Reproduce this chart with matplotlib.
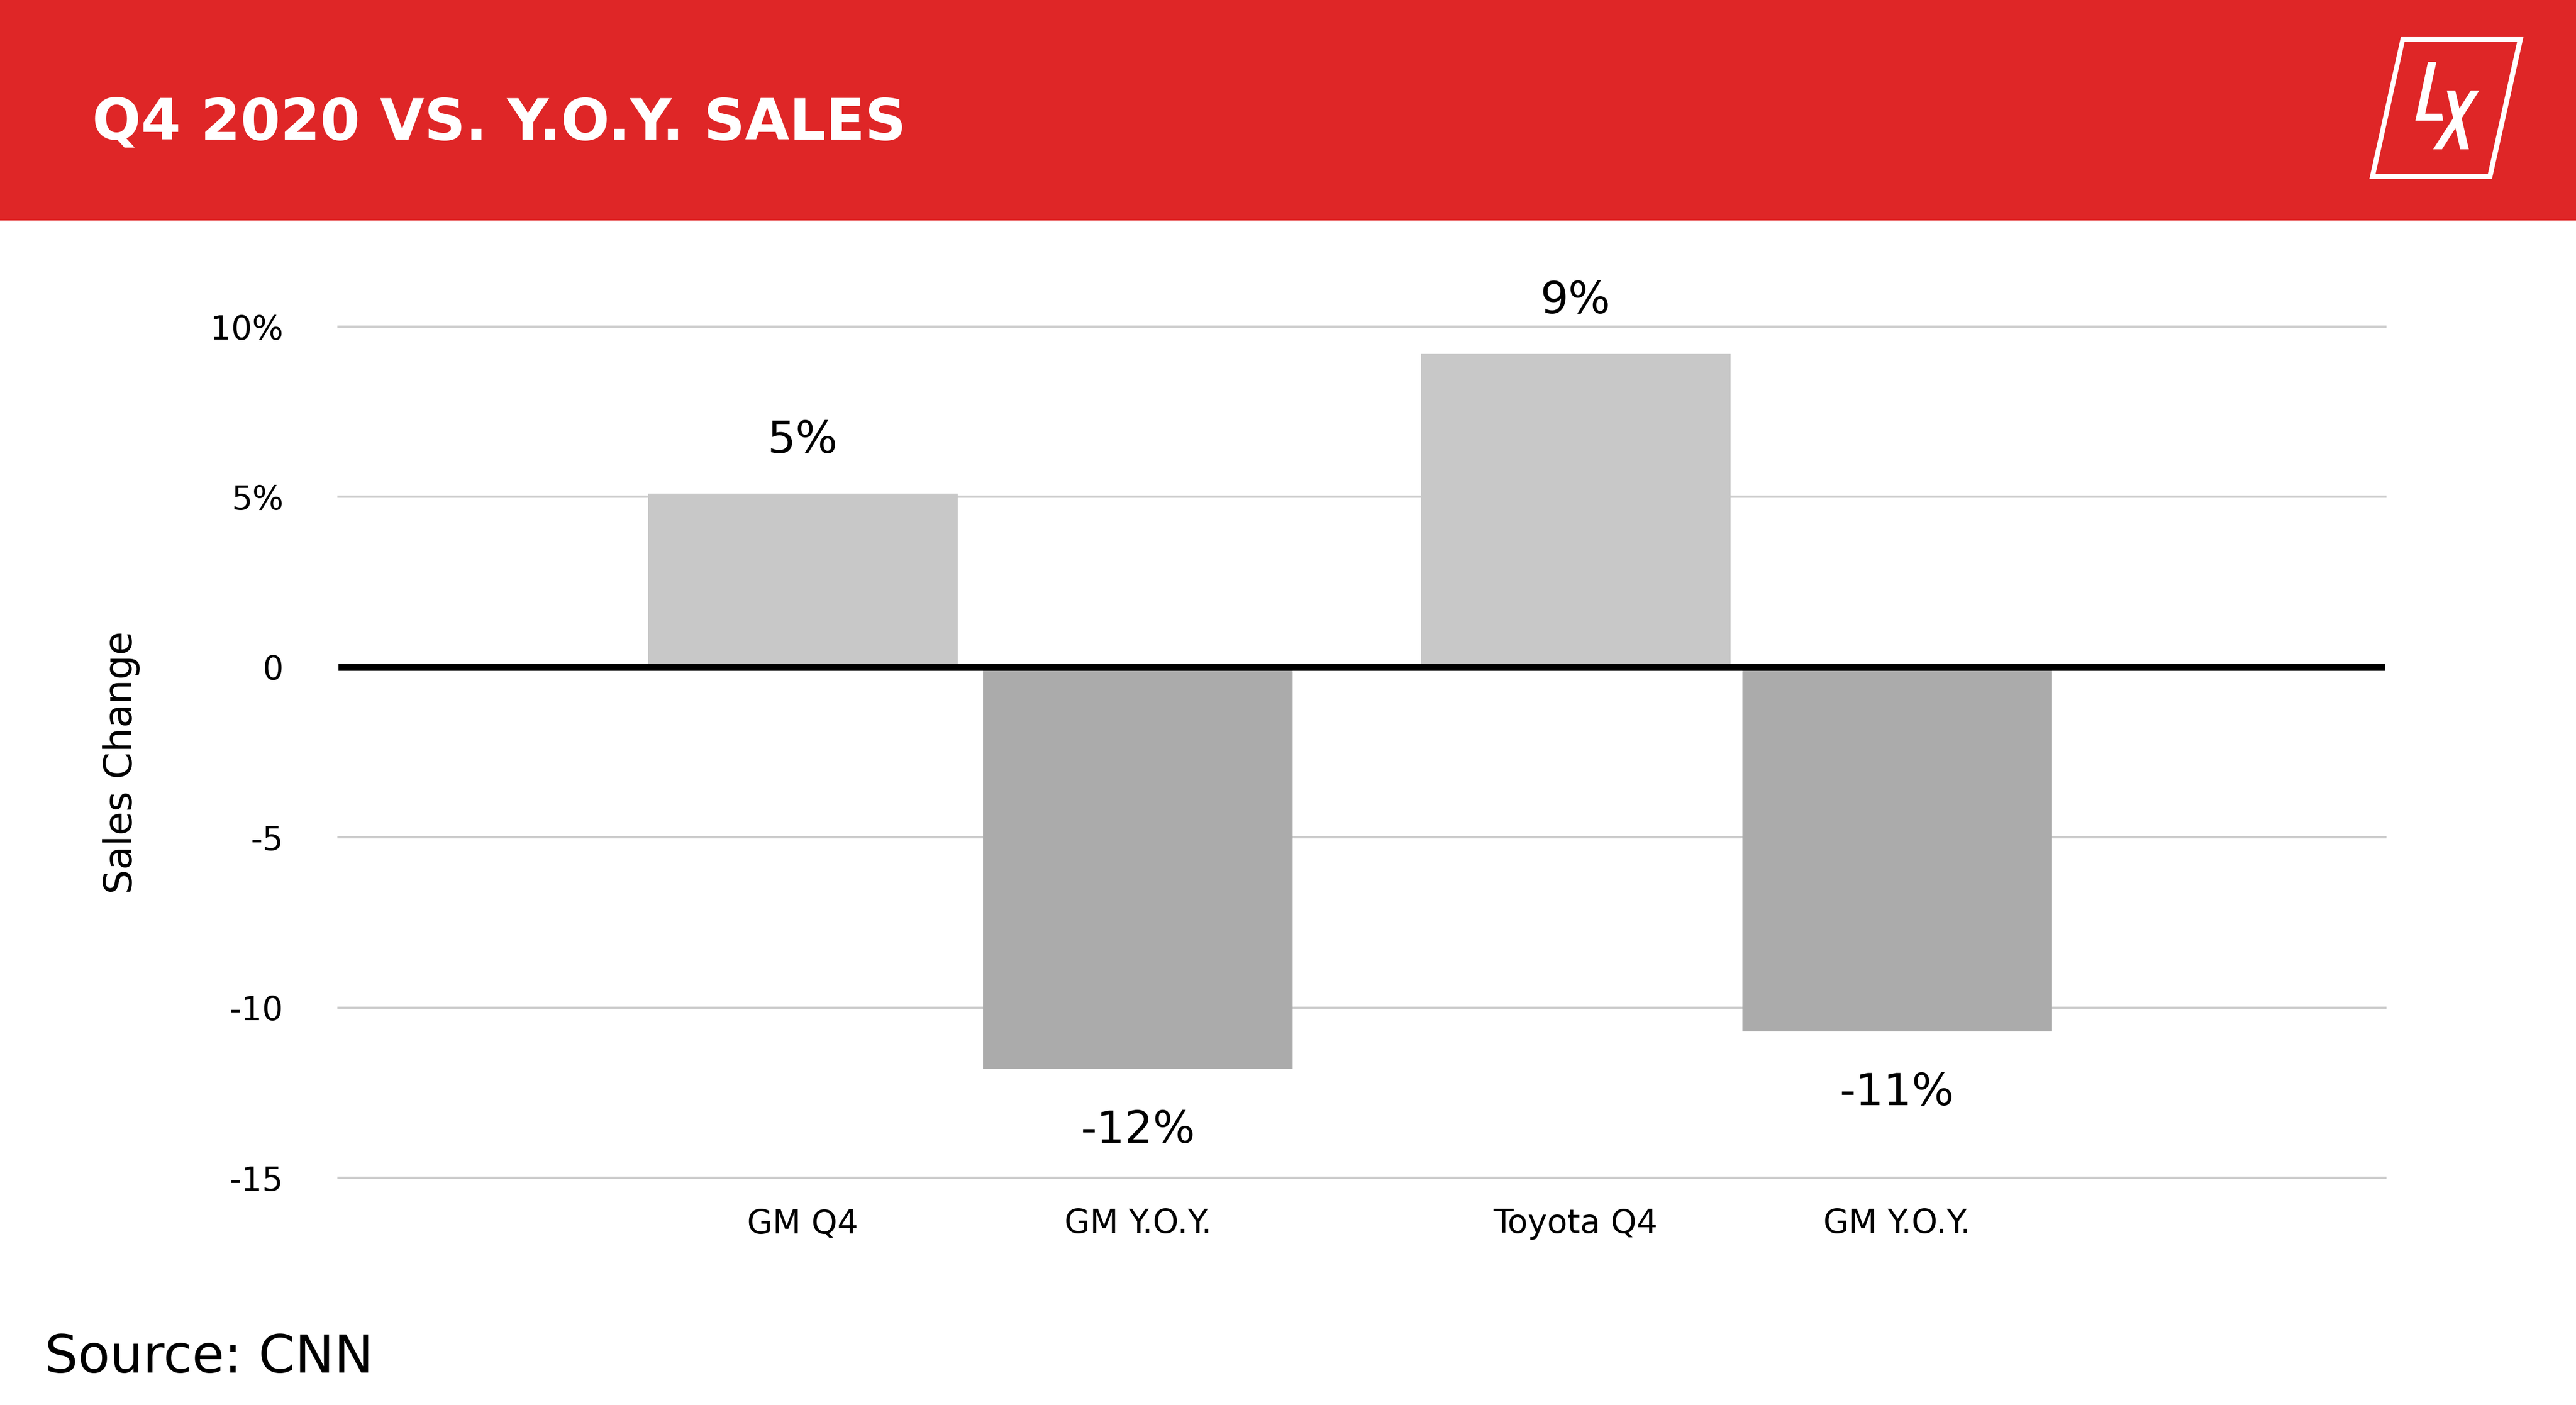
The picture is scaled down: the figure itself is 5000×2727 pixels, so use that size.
import matplotlib
matplotlib.use("Agg")
import matplotlib.pyplot as plt
from matplotlib.patches import Polygon, Rectangle

# ---- data ----
categories = ["GM Q4", "GM Y.O.Y.", "Toyota Q4", "GM Y.O.Y."]
values = [5.1, -11.8, 9.2, -10.7]
value_labels = ["5%", "-12%", "9%", "-11%"]
ytick_values = [-15, -10, -5, 0, 5, 10]
ytick_labels = ["-15", "-10", "-5", "0", "5%", "10%"]
title = "Q4 2020 VS. Y.O.Y. SALES"
ylabel = "Sales Change"
source = "Source: CNN"

# ---- layout / style ----
W, H = 5000, 2727
DPI = 100
bar_pos = [0.2268, 0.3906, 0.6044, 0.7615]   # fractions of the axis width
bar_width = 0.1513
light, dark = "#C8C8C8", "#ABABAB"
bar_colors = [light, dark, light, dark]
red = "#DF2627"

plt.rcParams["font.family"] = ["DejaVu Sans"]

fig = plt.figure(figsize=(W / DPI, H / DPI), dpi=DPI)
fig.patch.set_facecolor("white")


def fx(px):
    return px / W


def fy(py):
    return 1 - py / H


# banner
fig.patches.append(Rectangle((0, fy(428)), 1, 428 / H, transform=fig.transFigure,
                             facecolor=red, edgecolor="none", zorder=0))
fig.text(fx(179), fy(270), title, color="white", fontsize=80, fontweight="bold",
         ha="left", va="baseline")

# logo (decorative)
def poly(pts, color):
    fig.patches.append(Polygon([(fx(x), fy(y)) for x, y in pts], closed=True,
                               transform=fig.transFigure, facecolor=color,
                               edgecolor="none", zorder=2))

poly([(4660, 72), (4898, 72), (4837, 347), (4599, 347)], "white")
poly([(4667.3, 81.3), (4885.7, 81.3), (4829, 337.3), (4611, 337.3)], red)
poly([(4712.7, 120), (4729, 120), (4707.3, 220.7), (4740, 220.7),
      (4742.3, 234.3), (4688.3, 234.3)], "white")
poly([(4749.3, 175.7), (4765.7, 175.7), (4792, 289.7), (4775.3, 289.7)], "white")
poly([(4796, 175.7), (4812.3, 175.7), (4740, 289.7), (4722.7, 289.7)], "white")

# axes
ax_left, ax_right, ax_top, ax_bottom = 657, 4630, 634, 2286
ax = fig.add_axes([fx(ax_left), fy(ax_bottom), (ax_right - ax_left) / W,
                   (ax_bottom - ax_top) / H])
ax.set_facecolor("none")
ax.set_xlim(0, 1)
ax.set_ylim(-15, 10)

for v in ytick_values:
    if v != 0:
        ax.axhline(v, color="#CCCCCC", lw=3.2, zorder=0, clip_on=False)

ax.bar(bar_pos, values, width=bar_width, color=bar_colors, zorder=2)
ax.axhline(0, color="black", lw=9.4, zorder=3)

for x, v, lab in zip(bar_pos, values, value_labels):
    off = 57 if v >= 0 else -103
    ax.annotate(lab, xy=(x, v), xytext=(0, off), textcoords="offset points",
                ha="center", va="baseline", fontsize=62, color="black")

ax.set_yticks(ytick_values)
ax.set_yticklabels(ytick_labels)
ax.set_xticks(bar_pos)
ax.set_xticklabels(categories)
ax.tick_params(axis="y", length=0, pad=77, labelsize=46, labelcolor="black")
ax.tick_params(axis="x", length=0, pad=42, labelsize=46, labelcolor="black")
for s in ax.spines.values():
    s.set_visible(False)

fig.text(fx(236), fy(1480), ylabel, rotation=90, fontsize=54, ha="center",
         va="center", color="black")
fig.text(fx(87), fy(2664), source, fontsize=73, ha="left", va="baseline",
         color="black")

fig.savefig("out.png", dpi=DPI, facecolor="white")
